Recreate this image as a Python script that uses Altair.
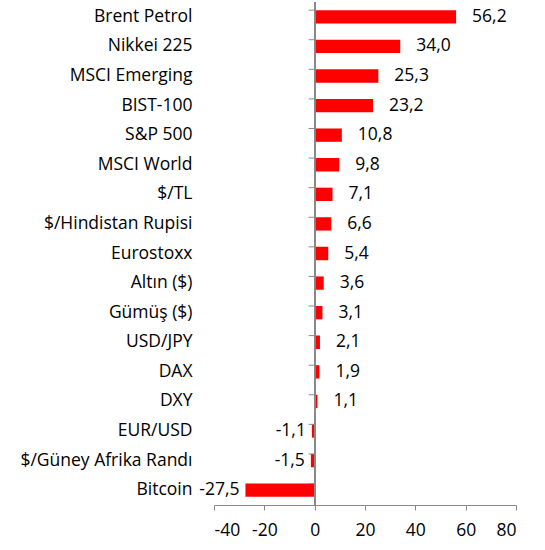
import altair as alt
import pandas as pd

categories = ["Brent Petrol", "Nikkei 225", "MSCI Emerging", "BIST-100", "S&P 500",
              "MSCI World", "$/TL", "$/Hindistan Rupisi", "Eurostoxx", "Altın ($)",
              "Gümüş ($)", "USD/JPY", "DAX", "DXY", "EUR/USD",
              "$/Güney Afrika Randı", "Bitcoin"]
values = [56.2, 34.0, 25.3, 23.2, 10.8, 9.8, 7.1, 6.6, 5.4, 3.6, 3.1, 2.1, 1.9, 1.1, -1.1, -1.5, -27.5]
x_ticks = [-40, -20, 0, 20, 40, 60, 80]

df = pd.DataFrame({
    "cat": categories,
    "v": values,
    "lbl": [f"{v:.1f}".replace(".", ",") for v in values],
})

FONT = "Open Sans"
FS = 17.5
GRAY = "#898989"

y_enc = alt.Y("cat:N", sort=categories,
              scale=alt.Scale(paddingInner=0.55, paddingOuter=0.275),
              axis=alt.Axis(title=None, ticks=False, domain=False, labelPadding=22,
                            labelFontSize=FS, labelFont=FONT, labelColor="black",
                            labelLimit=300))
x_enc = alt.X("v:Q", scale=alt.Scale(domain=[-40, 80], nice=False),
              axis=alt.Axis(title=None, values=x_ticks, grid=False, domainColor=GRAY,
                            tickColor=GRAY, tickSize=5, labelFontSize=FS, labelFont=FONT,
                            labelColor="black", labelPadding=11,
                            labelExpr="'' + datum.value"))

base = alt.Chart(df)

bars = base.mark_bar(color="#FF0000").encode(x=x_enc, y=y_enc)

pos = base.transform_filter("datum.v >= 0").mark_text(
    align="left", baseline="middle", dx=16, fontSize=FS, font=FONT, color="black"
).encode(x="v:Q", y=alt.Y("cat:N", sort=categories), text="lbl:N")

neg = base.transform_filter("datum.v < 0").mark_text(
    align="right", baseline="middle", dx=-6, fontSize=FS, font=FONT, color="black"
).encode(x="v:Q", y=alt.Y("cat:N", sort=categories), text="lbl:N")

zero = base.mark_rule(color=GRAY, strokeWidth=1).encode(x=alt.datum(0))

ticks = base.mark_rule(color=GRAY, strokeWidth=1).encode(
    x=alt.datum(0), x2=alt.datum(-2.4),
    y=alt.Y("cat:N", sort=categories, bandPosition=0))

chart = alt.layer(bars, zero, ticks, pos, neg).properties(
    width=302, height=503,
    autosize=alt.AutoSizeParams(type="none"),
    padding={"left": 214, "top": 2, "right": 29, "bottom": 45},
).configure_view(stroke=None)

chart.save("out.html", embed_options={"renderer": "svg", "actions": False})
